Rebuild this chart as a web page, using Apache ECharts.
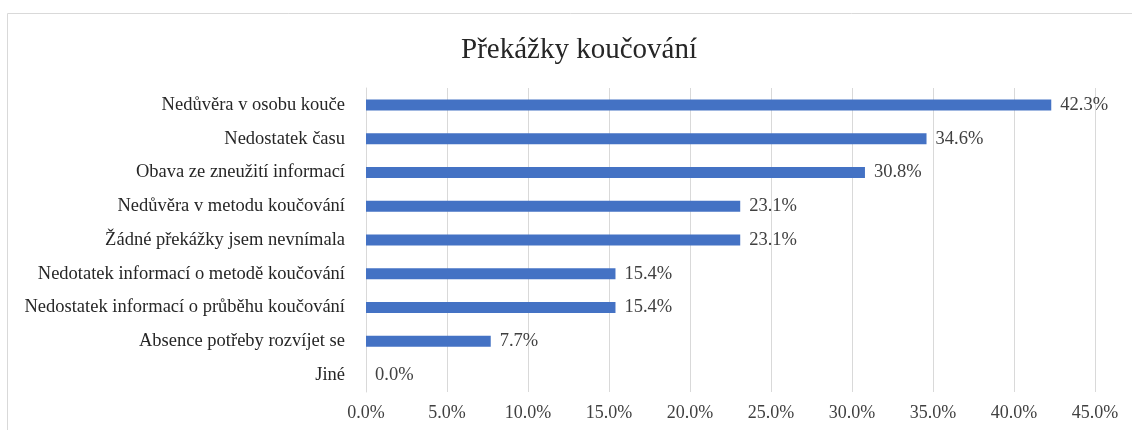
<!DOCTYPE html>
<html>
<head>
<meta charset="utf-8">
<script src="https://cdn.jsdelivr.net/npm/echarts@6/dist/echarts.min.js"></script>
<style>
html,body{margin:0;padding:0;background:#fff;}
#chart{width:1132px;height:430px;}
</style>
</head>
<body>
<div id="chart"></div>
<script>
// kategorie odshora dolů
var categories = ['Nedůvěra v osobu kouče', 'Nedostatek času', 'Obava ze zneužití informací',
  'Nedůvěra v metodu koučování', 'Žádné překážky jsem nevnímala', 'Nedotatek informací o metodě koučování',
  'Nedostatek informací o průběhu koučování', 'Absence potřeby rozvíjet se', 'Jiné'];
var values = [42.3, 34.6, 30.8, 23.1, 23.1, 15.4, 15.4, 7.7, 0.0];
var ticks = [0, 5, 10, 15, 20, 25, 30, 35, 40, 45];

var font = '"Liberation Serif", "Times New Roman", serif';
var myChart = echarts.init(document.getElementById('chart'));
var option = {
  animation: false,
  title: {
    text: 'Překážky koučování',
    left: 574,
    textAlign: 'center',
    top: 31,
    textStyle: {fontFamily: font, fontSize: 29, fontWeight: 'normal', color: '#262626'}
  },
  graphic: [{
    type: 'polyline',
    shape: {points: [[7.5, 440], [7.5, 13.5], [1140, 13.5]]},
    style: {stroke: '#d9d9d9', lineWidth: 1, fill: null}
  }],
  grid: {left: 366, right: 37, top: 88, bottom: 38},
  xAxis: {
    type: 'value',
    min: ticks[0],
    max: ticks[ticks.length - 1],
    interval: 5,
    axisLine: {show: false},
    axisTick: {show: false},
    splitLine: {lineStyle: {color: '#d9d9d9'}},
    axisLabel: {
      fontFamily: font, fontSize: 18, color: '#404040', margin: 12,
      formatter: function (v) { return v.toFixed(1) + '%'; }
    }
  },
  yAxis: {
    type: 'category',
    inverse: true,
    data: categories,
    axisLine: {lineStyle: {color: '#d9d9d9'}},
    axisTick: {show: false},
    axisLabel: {fontFamily: font, fontSize: 18.5, color: '#262626', margin: 21}
  },
  series: [{
    type: 'bar',
    data: values,
    barWidth: 11,
    itemStyle: {color: '#4472C4'},
    label: {
      show: true,
      position: 'right',
      distance: 9,
      fontFamily: font, fontSize: 18.5, color: '#404040',
      formatter: function (p) { return p.value.toFixed(1) + '%'; }
    }
  }]
};
myChart.setOption(option);
</script>
</body>
</html>
